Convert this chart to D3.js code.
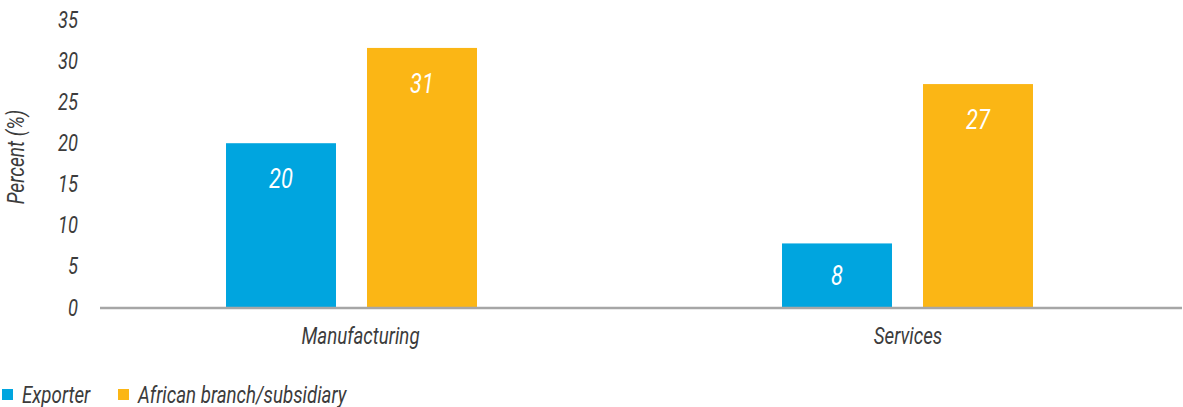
<!DOCTYPE html>
<html>
<head>
<meta charset="utf-8">
<script src="https://cdn.jsdelivr.net/npm/d3@7"></script>
<style>
  html, body { margin: 0; padding: 0; background: #fff; }
  svg { display: block; }
  text { font-family: Roboto, "Noto Sans", sans-serif; font-style: italic; font-weight: 400; }
</style>
</head>
<body>
<svg id="chart" width="1183" height="407"></svg>
<script>
const categories = ["Manufacturing", "Services"];
const series = ["Exporter", "African branch/subsidiary"];
const exporterValues = [20, 7.8];
const africanValues = [31.6, 27.2];
const exporterLabels = ["20", "8"];
const africanLabels = ["31", "27"];
const yTicks = [0, 5, 10, 15, 20, 25, 30, 35];
const colors = ["#00a5df", "#fbb615"];

const svg = d3.select("#chart");
const textColor = "#3c3c3c";
const sx = 0.78; // condensed look

const x0 = d3.scaleBand().domain(categories).range([73.5, 1185.5])
  .paddingInner(0.5486).paddingOuter(0.2743);
const x1 = d3.scaleBand().domain(series).range([0, x0.bandwidth()])
  .paddingInner(0.22).paddingOuter(0);
const y = d3.scaleLinear().domain([0, 35]).range([307.5, 20]);

function put(sel, x, yy, rot) {
  return sel.attr("transform", (d, i) => {
    const X = typeof x === "function" ? x(d, i) : x;
    const Y = typeof yy === "function" ? yy(d, i) : yy;
    return `translate(${X},${Y})${rot ? ` rotate(${rot})` : ""} scale(${sx},1)`;
  });
}

// y axis ticks
const yAxis = svg.append("g").attr("transform", "translate(100,0)")
  .call(d3.axisLeft(y).tickValues(yTicks).tickSize(0).tickPadding(22).tickFormat(d3.format("d")));
yAxis.select(".domain").remove();
yAxis.selectAll("text")
  .attr("x", -22 / sx)
  .attr("transform", `scale(${sx},1)`)
  .attr("fill", textColor)
  .style("font-size", "23.5px")
  .style("font-family", "Roboto, 'Noto Sans', sans-serif")
  .style("font-style", "italic")
  .style("font-weight", "400");

// y title
put(svg.append("text"), 24, 157, -90)
  .attr("text-anchor", "middle")
  .attr("fill", textColor)
  .style("font-size", "24.5px")
  .text("Percent (%)");

// bars
const rows = [];
categories.forEach((c, i) => {
  rows.push({cat: c, s: series[0], v: exporterValues[i], label: exporterLabels[i], color: colors[0]});
  rows.push({cat: c, s: series[1], v: africanValues[i], label: africanLabels[i], color: colors[1]});
});

svg.append("g").selectAll("rect").data(rows).join("rect")
  .attr("x", d => x0(d.cat) + x1(d.s))
  .attr("y", d => y(d.v))
  .attr("width", x1.bandwidth())
  .attr("height", d => y(0) - y(d.v))
  .attr("fill", d => d.color);

put(svg.append("g").selectAll("text").data(rows).join("text"),
    d => x0(d.cat) + x1(d.s) + x1.bandwidth() / 2,
    d => Math.min(y(d.v) + 35, (y(d.v) + y(0)) / 2) + 10)
  .attr("text-anchor", "middle")
  .attr("fill", "#ffffff")
  .style("font-size", "28px")
  .text(d => d.label);

// x axis line
svg.append("line")
  .attr("x1", 100).attr("x2", 1182)
  .attr("y1", 308).attr("y2", 308)
  .attr("stroke", "#a6a6a6").attr("stroke-width", 2.5);

// x labels
put(svg.append("g").selectAll("text").data(categories).join("text"),
    (d, i) => x0(d) + x0.bandwidth() / 2 + (i === 0 ? 9 : 0.5), 344)
  .attr("text-anchor", "middle")
  .attr("fill", textColor)
  .style("font-size", "24px")
  .text(d => d);

// legend
const legendX = [2, 118];
const legend = svg.append("g").selectAll("g").data(series).join("g")
  .attr("transform", (d, i) => `translate(${legendX[i]},0)`);
legend.append("rect").attr("x", 0).attr("y", 389).attr("width", 11).attr("height", 11)
  .attr("fill", (d, i) => colors[i]);
put(legend.append("text"), 20, 402.5)
  .attr("fill", textColor).style("font-size", "24px").text(d => d);
</script>
</body>
</html>
